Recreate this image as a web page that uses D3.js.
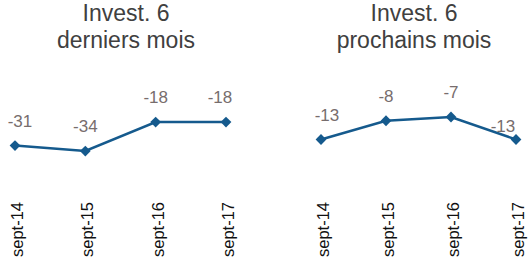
<!DOCTYPE html>
<html><head><meta charset="utf-8">
<script src="https://cdn.jsdelivr.net/npm/d3@7"></script>
<style>body{margin:0;background:#fff}svg{display:block}text{font-family:"Liberation Sans",Arial,sans-serif;font-weight:normal}</style>
</head><body>
<svg id="c" width="529" height="263"></svg>
<script>
const categories = ["sept-14","sept-15","sept-16","sept-17"];
const pastValues = [-31,-34,-18,-18];
const nextValues = [-13,-8,-7,-13];
const titles = [["Invest. 6","derniers mois"],["Invest. 6","prochains mois"]];

const svg = d3.select("#c");
const lineColor = "#155a8d", labelColor = "#776d6d", titleColor = "#404040";

const panels = [
  {values: pastValues, title: titles[0], xr:[15,226], yd:[-40,0], yr:[161.9,89.4], tx:126,
   lab:[[5,0],[0,0],[0,0],[-6,0]]},
  {values: nextValues, title: titles[1], xr:[321,516], yd:[-20,0], yr:[165.75,90.75], tx:414,
   lab:[[6,0],[0,0],[0,0],[-13,11]]}
];

panels.forEach(p => {
  const x = d3.scalePoint().domain(categories).range(p.xr);
  const y = d3.scaleLinear().domain(p.yd).range(p.yr);
  const g = svg.append("g");
  g.selectAll("text.t").data(p.title).join("text")
    .attr("x", p.tx).attr("y", (d,i)=>21+i*27)
    .attr("text-anchor","middle").attr("font-size",23).attr("fill",titleColor).text(d=>d);
  const data = categories.map((c,i)=>({c, v:p.values[i], i}));
  g.append("path").datum(data)
    .attr("d", d3.line().x(d=>x(d.c)).y(d=>y(d.v)))
    .attr("fill","none").attr("stroke",lineColor).attr("stroke-width",2.5);
  g.selectAll("path.m").data(data).join("path")
    .attr("d", d3.symbol(d3.symbolSquare, 58))
    .attr("transform", d=>`translate(${x(d.c)},${y(d.v)}) rotate(45)`)
    .attr("fill",lineColor);
  g.selectAll("text.l").data(data).join("text")
    .attr("x", d=>x(d.c)+p.lab[d.i][0]).attr("y", d=>y(d.v)-19+p.lab[d.i][1])
    .attr("text-anchor","middle").attr("font-size",17).attr("fill",labelColor)
    .text(d=>d.v);
  g.selectAll("text.a").data(categories).join("text")
    .attr("transform", d=>`translate(${x(d)+8},202) rotate(-90)`)
    .attr("text-anchor","end").attr("font-size",16.5).attr("fill","#111").text(d=>d);
});
</script>
</body></html>
